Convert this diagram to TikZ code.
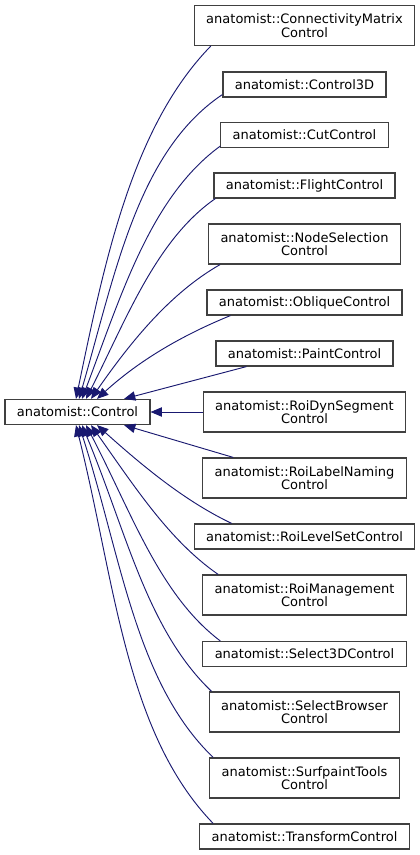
\documentclass[tikz,border=0pt]{standalone}
\usepackage{fontspec}
\setmainfont{DejaVu Sans}
\usetikzlibrary{arrows.meta,calc}
\definecolor{edgeblue}{HTML}{191970}
\definecolor{boxgray}{HTML}{404040}
\begin{document}
\begin{tikzpicture}[x=0.75pt,y=0.75pt,font=\fontsize{9.75}{10.2}\selectfont,
  cls/.style={draw=boxgray,fill=white,line width=0.9pt,align=center,
    inner xsep=8.9pt,inner ysep=0pt,minimum height=18.75pt},
  cls2/.style={cls,minimum height=30pt},
  inh/.style={draw=edgeblue,line width=0.7pt,-{Triangle[length=8.5pt,width=7pt]}}]
  \useasboundingbox (0,0) rectangle (420,-855);
  \node[cls] (base) at (77.5,-412) {anatomist::Control};
  \node[cls2] (c1) at (304.5,-25.5) {anatomist::ConnectivityMatrix\\Control};
  \node[cls] (c2) at (304.5,-84.5) {anatomist::Control3D};
  \node[cls] (c3) at (304.5,-135) {anatomist::CutControl};
  \node[cls] (c4) at (304.5,-185.5) {anatomist::FlightControl};
  \node[cls2] (c5) at (304.5,-244) {anatomist::NodeSelection\\Control};
  \node[cls] (c6) at (304.5,-302.5) {anatomist::ObliqueControl};
  \node[cls] (c7) at (304.5,-353.5) {anatomist::PaintControl};
  \node[cls2] (c8) at (304.5,-412) {anatomist::RoiDynSegment\\Control};
  \node[cls2] (c9) at (304.5,-478) {anatomist::RoiLabelNaming\\Control};
  \node[cls] (c10) at (304.5,-536.5) {anatomist::RoiLevelSetControl};
  \node[cls2] (c11) at (304.5,-595) {anatomist::RoiManagement\\Control};
  \node[cls] (c12) at (304.5,-654) {anatomist::Select3DControl};
  \node[cls2] (c13) at (304.5,-712) {anatomist::SelectBrowser\\Control};
  \node[cls2] (c14) at (304.5,-778) {anatomist::SurfpaintTools\\Control};
  \node[cls] (c15) at (304.5,-836.5) {anatomist::TransformControl};
  \draw[inh] ($(c1.south west)+(17,0)$) .. controls +(-78,-80) and +(29,140) .. ($(base.north)+(-1.5,0)$);
  \draw[inh] ($(c2.south west)+(0,3)$) .. controls +(-85,-57) and +(36,124) .. ($(base.north)+(1.5,0)$);
  \draw[inh] ($(c3.south west)+(0,2)$) .. controls +(-70,-51) and +(39,103) .. ($(base.north)+(4.5,0)$);
  \draw[inh] ($(c4.south west)+(2,0)$) .. controls +(-59,-41) and +(41,81) .. ($(base.north)+(8.5,0)$);
  \draw[inh] ($(c5.south west)+(12,0)$) .. controls +(-49,-28) and +(41,59) .. ($(base.north)+(13.5,0)$);
  \draw[inh] ($(c6.south west)+(24,0)$) .. controls +(-44,-18) and +(45,41) .. ($(base.north)+(19.5,0)$);
  \draw[inh] ($(c7.south west)+(31,0)$) -- ($(base.north)+(46.5,0)$);
  \draw[inh] (c8.west) -- (base.east);
  \draw[inh] ($(c9.north west)+(31,0)$) -- ($(base.south)+(46.5,0)$);
  \draw[inh] ($(c10.north west)+(38,0)$) .. controls +(-46,22) and +(48,-43) .. ($(base.south)+(19.5,0)$);
  \draw[inh] ($(c11.north west)+(16,0)$) .. controls +(-49,34) and +(44,-62) .. ($(base.south)+(13.5,0)$);
  \draw[inh] ($(c12.north west)+(18,0)$) .. controls +(-61,46) and +(45,-86) .. ($(base.south)+(8.5,0)$);
  \draw[inh] ($(c13.north west)+(3,0)$) .. controls +(-65,62) and +(44,-105) .. ($(base.south)+(4.5,0)$);
  \draw[inh] ($(c14.north west)+(4,0)$) .. controls +(-78,75) and +(42,-130) .. ($(base.south)+(1.5,0)$);
  \draw[inh] ($(c15.north west)+(14,0)$) .. controls +(-88,91) and +(39,-156) .. ($(base.south)+(-1.5,0)$);
\end{tikzpicture}
\end{document}
